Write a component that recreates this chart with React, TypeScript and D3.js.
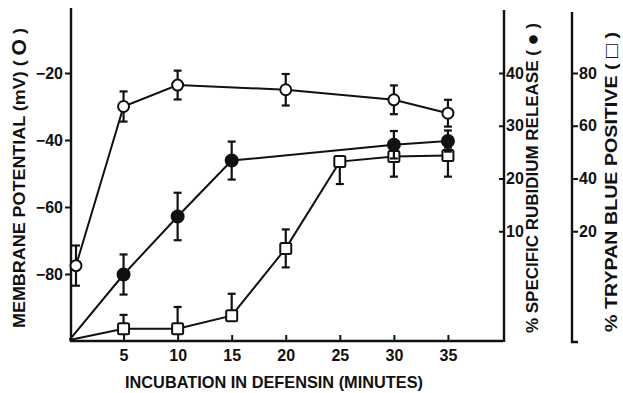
import React, { useEffect, useRef } from 'react';
import * as d3 from 'd3';

// incubation time (minutes) and readings
const potentialTimes = [0.6, 5, 10, 20, 30, 35];
const potentialValues = [-77.5, -30, -23.6, -25, -28, -32];
const potentialErr = [6, 4.5, 4.3, 4.7, 4.3, 4];

const rubidiumTimes = [0, 5, 10, 15, 30, 35];
const rubidiumValues = [-10.6, 1.8, 12.8, 23.4, 26.4, 27.1];
const rubidiumErr = [0, 3.8, 4.5, 3.6, 2.6, 2];

const trypanTimes = [0, 5, 10, 15, 20, 25, 30, 35];
const trypanValues = [-21.2, -17, -17, -12, 13.5, 46.4, 48.3, 48.7];
const trypanErrHi = [0, 5.3, 8.3, 8.3, 7.2, 0, 3, 3];
const trypanErrLo = [0, 0, 0, 0, 7.2, 8.5, 7.6, 8];

const xTicks = [5, 10, 15, 20, 25, 30, 35];
const potentialTicks = [-20, -40, -60, -80];
const rubidiumTicks = [10, 20, 30, 40];
const trypanTicks = [20, 40, 60, 80];

const FONT = '"Liberation Sans", Arial, sans-serif';
const INK = '#111';

const App = () => {
  const svgRef = useRef<SVGSVGElement>(null);

  useEffect(() => {
    const svg = d3.select(svgRef.current);
    svg.selectAll('*').remove();

    const width = 623, height = 393;
    svg.attr('width', width).attr('height', height);
    svg.append('rect').attr('width', width).attr('height', height).attr('fill', '#fff');

    const x = d3.scaleLinear().domain([0, 40]).range([69.5, 502]);
    const yPot = d3.scaleLinear().domain([-100, 0]).range([341, 6]);
    const yRb = d3.scaleLinear().domain([0, 40]).range([284, 73]);
    const yTb = d3.scaleLinear().domain([0, 80]).range([284, 73]);

    const axisStyle = (g) => {
      g.select('.domain').remove();
      g.selectAll('line').attr('stroke', INK).attr('stroke-width', 2);
      g.selectAll('text')
        .attr('fill', INK)
        .style('font-family', FONT)
        .style('font-weight', 'bold')
        .style('font-size', '16px');
    };

    // axis lines
    const lines = svg.append('g').attr('stroke', INK).attr('stroke-width', 2.4).attr('fill', 'none');
    lines.append('path').attr('d', `M${x(0) + 1.5},${yPot(0) + 2}V341H503`);
    lines.append('path').attr('d', 'M504,10V342');
    lines.append('path').attr('d', 'M572,12V342H578');

    // x axis ticks (pointing up)
    svg.append('g')
      .attr('transform', 'translate(0,341)')
      .call(d3.axisBottom(x).tickValues(xTicks).tickSizeInner(-6).tickSizeOuter(0).tickPadding(9).tickFormat(d3.format('d')))
      .call(axisStyle);

    // left axis
    svg.append('g')
      .attr('transform', 'translate(71,0)')
      .call(d3.axisLeft(yPot).tickValues(potentialTicks).tickSize(6).tickPadding(2))
      .call(axisStyle);

    // rubidium axis: tick on the left, label on the right
    const rb = svg.append('g')
      .attr('transform', 'translate(504,0)')
      .call(d3.axisRight(yRb).tickValues(rubidiumTicks).tickSize(0).tickPadding(2))
      .call(axisStyle);
    rb.selectAll('.tick line').attr('x1', -5).attr('x2', 0);

    // trypan axis
    svg.append('g')
      .attr('transform', 'translate(572,0)')
      .call(d3.axisRight(yTb).tickValues(trypanTicks).tickSize(6).tickPadding(1))
      .call(axisStyle);

    const drawSeries = (times, values, errHi, errLo, yScale, kind) => {
      const pts = times.map((t, i) => ({ t, v: values[i], hi: errHi[i], lo: errLo[i] }));
      const g = svg.append('g');
      g.append('path')
        .datum(pts)
        .attr('fill', 'none')
        .attr('stroke', INK)
        .attr('stroke-width', 2)
        .attr('d', d3.line<any>().x(d => x(d.t)).y(d => yScale(d.v)));

      const withMarker = pts.filter(d => d.t > 0);
      const bars = g.selectAll('g.err').data(withMarker.filter(d => d.hi > 0 || d.lo > 0)).enter().append('g')
        .attr('stroke', INK).attr('stroke-width', 2.2);
      bars.append('line')
        .attr('x1', d => x(d.t)).attr('x2', d => x(d.t))
        .attr('y1', d => yScale(d.v + d.hi)).attr('y2', d => yScale(d.v - d.lo));
      bars.filter(d => d.hi > 0).append('line')
        .attr('x1', d => x(d.t) - 4).attr('x2', d => x(d.t) + 4)
        .attr('y1', d => yScale(d.v + d.hi)).attr('y2', d => yScale(d.v + d.hi));
      bars.filter(d => d.lo > 0).append('line')
        .attr('x1', d => x(d.t) - 4).attr('x2', d => x(d.t) + 4)
        .attr('y1', d => yScale(d.v - d.lo)).attr('y2', d => yScale(d.v - d.lo));

      if (kind === 'square') {
        g.selectAll('rect.m').data(withMarker).enter().append('rect')
          .attr('x', d => x(d.t) - 5.5).attr('y', d => yScale(d.v) - 5.5)
          .attr('width', 11).attr('height', 11).attr('rx', 1.5)
          .attr('fill', '#fff').attr('stroke', INK).attr('stroke-width', 2);
      } else {
        g.selectAll('circle.m').data(withMarker).enter().append('circle')
          .attr('cx', d => x(d.t)).attr('cy', d => yScale(d.v))
          .attr('r', kind === 'filled' ? 6 : 5.5)
          .attr('fill', kind === 'filled' ? INK : '#fff')
          .attr('stroke', INK).attr('stroke-width', 2);
      }
    };

    drawSeries(trypanTimes, trypanValues, trypanErrHi, trypanErrLo, yTb, 'square');
    drawSeries(rubidiumTimes, rubidiumValues, rubidiumErr, rubidiumErr, yRb, 'filled');
    drawSeries(potentialTimes, potentialValues, potentialErr, potentialErr, yPot, 'open');

    const title = (text, symbol, cx, cy, len, rotate) => {
      const t = svg.append('text')
        .attr('transform', `translate(${cx},${cy})${rotate ? ' rotate(-90)' : ''}`)
        .attr('text-anchor', 'middle')
        .attr('dominant-baseline', 'central')
        .attr('textLength', len)
        .attr('lengthAdjust', 'spacingAndGlyphs')
        .attr('fill', INK)
        .style('font-family', FONT)
        .style('font-weight', 'bold')
        .style('font-size', '17px');
      t.append('tspan').text(text);
      if (symbol) {
        t.append('tspan').text(' ( ');
        t.append('tspan').style('font-size', '20px').text(symbol);
        t.append('tspan').text(' )');
      }
    };

    title('MEMBRANE POTENTIAL (mV)', 'O', 19, 178, 300, true);
    title('% SPECIFIC RUBIDIUM RELEASE', '●', 532, 178, 310, true);
    title('% TRYPAN BLUE POSITIVE', '□', 611, 182, 300, true);
    title('INCUBATION IN DEFENSIN (MINUTES)', null, 274, 382, 298, false);
  }, []);

  return (
    <div style={{ position: 'absolute', left: 0, top: 0, width: 623, height: 393 }}>
      <svg ref={svgRef}></svg>
    </div>
  );
};

export default App;
